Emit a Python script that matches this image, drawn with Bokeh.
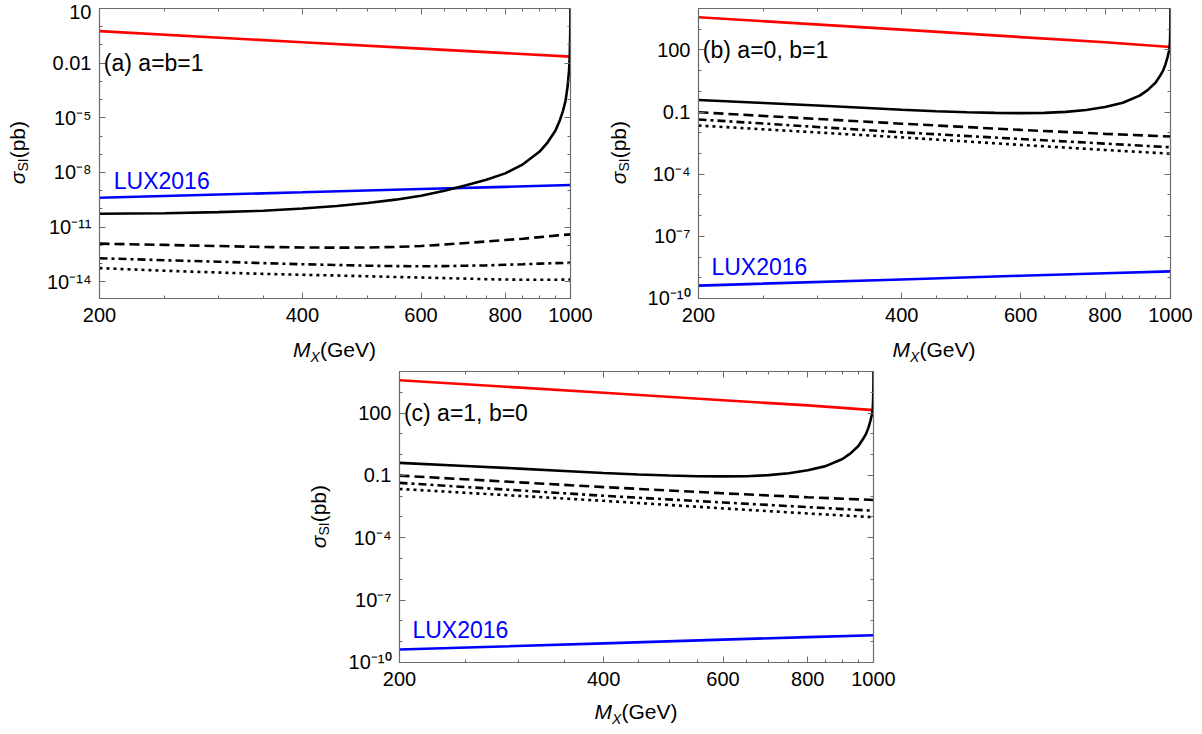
from bokeh.plotting import figure
from bokeh.models import Range1d, FixedTicker, LogAxis, Label, Spacer, Div
from bokeh.layouts import column, row
from bokeh.embed import file_html
from bokeh.resources import INLINE

FONT = "Liberation Sans"
FRAME = "#6a6a6a"
RED = "#ff0000"
BLUE = "#0000ff"

# ---------------- axes ----------------
X_MAJOR = [200, 400, 600, 800, 1000]
X_LABELS = ["200", "400", "600", "800", "1000"]
X_MINOR = [250, 300, 350, 450, 500, 550, 650, 700, 750, 850, 900, 950]

A_YTICKS = [10, 0.01, 1e-5, 1e-8, 1e-11, 1e-14]
A_YLABELS = ["10", "0.01", "10⁻⁵", "10⁻⁸", "10⁻¹¹", "10⁻¹⁴"]
A_YMINOR = [1, 0.1, 1e-3, 1e-4, 1e-6, 1e-7, 1e-9, 1e-10, 1e-12, 1e-13]
A_YRANGE = (1.2e-15, 10.001)

BC_YTICKS = [100, 0.1, 1e-4, 1e-7, 1e-10]
BC_YLABELS = ["100", "0.1", "10⁻⁴", "10⁻⁷", "10⁻¹⁰"]
BC_YMINOR = [1e4, 1e3, 10, 1, 0.01, 1e-3, 1e-5, 1e-6, 1e-8, 1e-9]
BC_YRANGE = (0.9999e-10, 1e4)

# ---------------- data (pb vs GeV) ----------------
M_GRID = [200, 250, 300, 350, 400, 450, 500, 550, 600, 650, 700, 750, 800, 850, 900, 950, 1000]
M_LINE = [200, 400, 600, 800, 1000]

# panel (a) a=b=1
A_M_SOLID = [200, 250, 300, 350, 400, 450, 500, 550, 600, 650, 700, 750, 800, 850, 900,
             925, 950, 965, 975, 983, 990, 995, 997.5, 999, 999.7, 1000]
A_SOLID = [5.4e-11, 5.8e-11, 6.6e-11, 7.9e-11, 1.05e-10, 1.45e-10, 2.1e-10, 3.2e-10, 5.2e-10,
           1.0e-9, 2.0e-9, 4.0e-9, 8.9e-9, 2.8e-8, 1.4e-7,
           4.5e-7, 2.0e-6, 7.9e-6, 2.5e-5, 8.3e-5, 5.0e-4, 4.0e-3, 2.4e-2, 0.40, 3.2, 1e3]
A_DASHED = [1.23e-12, 1.05e-12, 9.1e-13, 8.1e-13, 7.6e-13, 7.4e-13, 7.6e-13, 8.1e-13, 9.1e-13,
            1.10e-12, 1.35e-12, 1.62e-12, 1.95e-12, 2.3e-12, 2.8e-12, 3.4e-12, 4.0e-12]
A_DOTDASH = [1.95e-13, 1.51e-13, 1.26e-13, 1.05e-13, 9.1e-14, 8.3e-14, 7.6e-14, 7.2e-14, 7.1e-14,
             7.2e-14, 7.6e-14, 7.9e-14, 8.5e-14, 9.1e-14, 9.8e-14, 1.05e-13, 1.10e-13]
A_DOTTED = [5.6e-14, 4.0e-14, 3.2e-14, 2.7e-14, 2.4e-14, 2.2e-14, 2.0e-14, 1.82e-14, 1.70e-14,
            1.58e-14, 1.48e-14, 1.38e-14, 1.32e-14, 1.29e-14, 1.29e-14, 1.29e-14, 1.32e-14]
A_RED = [0.57, 0.141, 0.063, 0.0355, 0.0229]
A_LUX = [4.1e-10, 8.1e-10, 1.23e-9, 1.62e-9, 2.04e-9]

# panel (b) a=0, b=1
B_M_SOLID = [200, 250, 300, 350, 400, 450, 500, 550, 600, 650, 700, 750, 800, 850, 900,
             925, 950, 965, 975, 983, 990, 995, 997, 998.5, 999.5, 999.9, 1000]
B_SOLID = [0.38, 0.275, 0.209, 0.162, 0.129, 0.110, 0.098, 0.091, 0.089, 0.091, 0.102, 0.126,
           0.174, 0.28, 0.62, 1.15, 2.6, 5.6, 10, 20, 45, 89, 138, 320, 1.3e3, 6.3e3, 1e6]
B_DASHED = [0.098, 0.0275, 0.0138, 0.0089, 0.0066]
B_DOTDASH = [0.044, 0.0105, 0.0050, 0.0030, 0.0020]
B_DOTTED = [0.0224, 0.0060, 0.0026, 0.00148, 0.00098]
B_RED = [3.8e3, 955, 417, 234, 138]
B_LUX = [4.2e-10, 8.3e-10, 1.26e-9, 1.66e-9, 2.04e-9]

# panel (c) a=1, b=0
C_M_SOLID = [200, 250, 300, 350, 400, 450, 500, 550, 600, 650, 700, 750, 800, 850, 900,
             925, 950, 965, 975, 983, 990, 995, 997, 998.5, 999.5, 999.9, 1000]
C_SOLID = [0.40, 0.285, 0.213, 0.164, 0.130, 0.111, 0.099, 0.092, 0.090, 0.092, 0.103, 0.127,
           0.176, 0.28, 0.62, 1.15, 2.6, 5.6, 10, 20, 45, 89, 138, 320, 1.3e3, 6.3e3, 1e6]
C_DASHED = [0.098, 0.0275, 0.0138, 0.0089, 0.0066]
C_DOTDASH = [0.044, 0.0105, 0.0050, 0.0030, 0.0020]
C_DOTTED = [0.0224, 0.0060, 0.0026, 0.00148, 0.00098]
C_RED = [3.8e3, 955, 417, 234, 138]
C_LUX = [4.2e-10, 8.3e-10, 1.26e-9, 1.66e-9, 2.04e-9]

X_TITLE_HTML = '<i>M</i><sub style="font-size:14px;line-height:0;"><i>X</i></sub>(GeV)'
Y_TITLE_HTML = '<i>σ</i><sub style="font-size:14px;line-height:0;">SI</sub>(pb)'


def style_axis(ax, ticks, minor, labels, show):
    ax.ticker = FixedTicker(ticks=ticks, minor_ticks=minor)
    ax.axis_line_color = FRAME
    ax.axis_line_width = 1.2
    ax.major_tick_line_color = FRAME
    ax.minor_tick_line_color = FRAME
    ax.major_tick_in = 6
    ax.major_tick_out = 0
    ax.minor_tick_in = 3
    ax.minor_tick_out = 0
    if show:
        ax.major_label_overrides = {t: s for t, s in zip(ticks, labels)}
        ax.major_label_text_font = FONT
        ax.major_label_text_font_size = "20px"
        ax.major_label_text_color = "black"
    else:
        ax.major_label_text_font_size = "2px"
        ax.major_label_text_color = None
        ax.major_label_standoff = 0


def make_panel(width, height, bl, br, bt, bb, yrange, yticks, yminor, ylabels,
               m_solid, solid, dashed, dotdash, dotted, m_dash, red, lux,
               tag, tag_y, lux_xy):
    p = figure(width=width, height=height, x_axis_type="log", y_axis_type="log",
               x_range=Range1d(200, 1000), y_range=Range1d(*yrange),
               output_backend="svg", toolbar_location=None,
               min_border_left=bl, min_border_right=br,
               min_border_top=bt, min_border_bottom=bb, margin=0)
    p.xgrid.visible = False
    p.ygrid.visible = False
    p.outline_line_color = FRAME
    p.background_fill_color = "white"
    p.border_fill_color = "white"

    style_axis(p.xaxis[0], X_MAJOR, X_MINOR, X_LABELS, True)
    p.xaxis[0].major_label_standoff = 9
    style_axis(p.yaxis[0], yticks, yminor, ylabels, True)
    p.yaxis[0].major_label_standoff = 8
    top = LogAxis()
    style_axis(top, X_MAJOR, X_MINOR, X_LABELS, False)
    p.add_layout(top, "above")
    right = LogAxis()
    style_axis(right, yticks, yminor, ylabels, False)
    p.add_layout(right, "right")

    lw = 2.6
    p.line(m_dash, dashed, line_color="black", line_width=lw, line_dash="10 5")
    p.line(m_dash, dotdash, line_color="black", line_width=lw, line_dash="8 4 3 4")
    p.line(m_dash, dotted, line_color="black", line_width=lw, line_dash="3 4")
    p.line(M_LINE, lux, line_color=BLUE, line_width=lw)
    p.line(M_LINE, red, line_color=RED, line_width=lw)
    p.line(m_solid, solid, line_color="black", line_width=lw)

    p.add_layout(Label(x=203, y=tag_y, text=tag, text_font=FONT, text_font_size="23px",
                       text_color="black", text_baseline="middle", text_align="left"))
    p.add_layout(Label(x=lux_xy[0], y=lux_xy[1], text="LUX2016", text_font=FONT,
                       text_font_size="23px", text_color=BLUE, text_baseline="middle",
                       text_align="left"))
    return p


def ylabel_div(w, h, center_y):
    html = (f'<div style="width:{w}px;height:{2 * center_y}px;display:flex;'
            'align-items:center;justify-content:center;">'
            '<span style="writing-mode:vertical-rl;transform:rotate(180deg);'
            f"font-family:'{FONT}';font-size:21px;color:black;white-space:nowrap;"
            f'line-height:24px;">{Y_TITLE_HTML}</span></div>')
    return Div(text=html, width=w, height=h, margin=0)


def xlabel_div(w, h, frame_left, frame_w, pad):
    html = (f'<div style="margin-left:{frame_left}px;width:{frame_w}px;padding-top:{pad}px;'
            f"text-align:center;font-family:'{FONT}';font-size:21px;color:black;"
            f'line-height:24px;white-space:nowrap;">{X_TITLE_HTML}</div>')
    return Div(text=html, width=w, height=h, margin=0)


# panel (a): unit at x 0..600, y 0..362
pa = make_panel(564, 332, 63, 30, 8, 34, A_YRANGE, A_YTICKS, A_YMINOR, A_YLABELS,
                A_M_SOLID, A_SOLID, A_DASHED, A_DOTDASH, A_DOTTED, M_GRID, A_RED, A_LUX,
                "(a) a=b=1", 0.01, (210, 3.4e-9))
unit_a = column(row(ylabel_div(36, 332, 153), pa), xlabel_div(600, 30, 99, 471, 6))

# panel (b): unit at x 600..1202
pb = make_panel(564, 332, 60, 32, 8, 34, BC_YRANGE, BC_YTICKS, BC_YMINOR, BC_YLABELS,
                B_M_SOLID, B_SOLID, B_DASHED, B_DOTDASH, B_DOTTED, M_LINE, B_RED, B_LUX,
                "(b) a=0, b=1", 100, (209, 3.3e-9))
unit_b = column(row(ylabel_div(38, 332, 153), pb), xlabel_div(602, 30, 98, 472, 6))

# panel (c): unit at x 300..900, y 362..733
pc = make_panel(562, 334, 61, 27, 9, 34, BC_YRANGE, BC_YTICKS, BC_YMINOR, BC_YLABELS,
                C_M_SOLID, C_SOLID, C_DASHED, C_DOTDASH, C_DOTTED, M_LINE, C_RED, C_LUX,
                "(c) a=1, b=0", 100, (209, 3.6e-9))
unit_c = column(row(ylabel_div(38, 334, 155), pc), xlabel_div(600, 37, 99, 474, 4))

layout = column(row(unit_a, unit_b), row(Spacer(width=300, height=371, margin=0), unit_c))
open("out.html", "w").write(file_html(layout, INLINE))
